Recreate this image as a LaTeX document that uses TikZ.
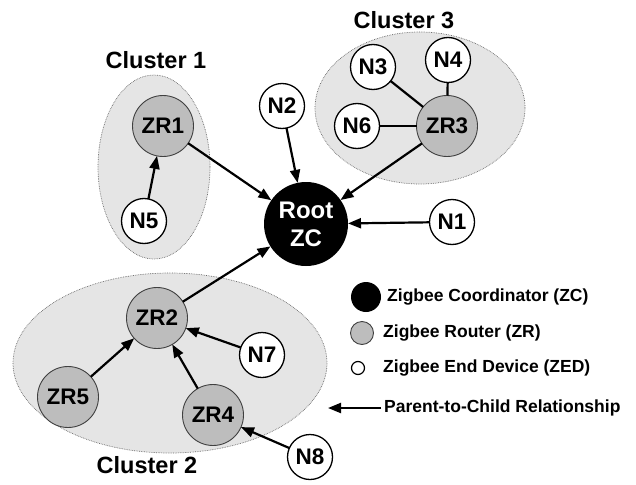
\documentclass[tikz,border=0pt]{standalone}
\usepackage{fontspec}
\setmainfont{Liberation Sans}
\usetikzlibrary{arrows.meta}
\definecolor{clusterfill}{gray}{0.90}
\definecolor{routerfill}{gray}{0.74}
\tikzset{
  cluster/.style={draw=gray!80!black, densely dotted, line width=0.7pt, fill=clusterfill},
  nodebase/.style={circle, inner sep=0pt, outer sep=0pt, font=\fontsize{22.5}{24}\selectfont\bfseries},
  enddev/.style={nodebase, draw=black, line width=1.3pt, fill=white, minimum size=45pt},
  router/.style={nodebase, draw=black!75, line width=0.9pt, fill=routerfill, minimum size=61pt},
  coord/.style={nodebase, fill=black, text=white, minimum size=84pt, align=center, font=\fontsize{24}{28}\selectfont\bfseries},
  arr/.style={line width=2.2pt, -{Triangle[length=13pt,width=10pt]}},
  link/.style={line width=2.2pt},
  clabel/.style={font=\fontsize{23.5}{25}\selectfont\bfseries},
  legtext/.style={anchor=west, inner sep=0pt, font=\fontsize{17.5}{19}\selectfont\bfseries}
}
\begin{document}
\begin{tikzpicture}[x=1pt, y=-1pt]
\useasboundingbox (0,0) rectangle (636,484);

% cluster regions
\draw[cluster] (154,167) ellipse [x radius=56, y radius=92];
\draw[cluster] (420,108) ellipse [x radius=105, y radius=76];
\draw[cluster] (170,363) ellipse [x radius=157, y radius=90];

\node[clabel] (c1) at (156,60) {Cluster 1};
\node[clabel] (c3) at (404,20) {Cluster 3};
\node[clabel] (c2) at (147,465) {Cluster 2};

% devices
\node[coord] (root) at (306,224) {Root\\ZC};
\node[router] (zr1) at (163,126) {ZR1};
\node[router] (zr3) at (447,126) {ZR3};
\node[router] (zr2) at (157,318) {ZR2};
\node[router] (zr5) at (68,397) {ZR5};
\node[router] (zr4) at (213,415) {ZR4};

\node[enddev] (n1) at (452,222) {N1};
\node[enddev] (n2) at (282,106) {N2};
\node[enddev] (n3) at (373,67) {N3};
\node[enddev] (n4) at (448,60) {N4};
\node[enddev] (n5) at (144,221) {N5};
\node[enddev] (n6) at (357,126) {N6};
\node[enddev] (n7) at (262,355) {N7};
\node[enddev] (n8) at (310,457) {N8};

% links
\draw[arr] (zr1) -- (root);
\draw[arr] (n2) -- (root);
\draw[arr] (zr3) -- (root);
\draw[arr] (n1) -- (root);
\draw[arr] (zr2) -- (root);
\draw[arr] (n5) -- (zr1);
\draw[arr] (zr5) -- (zr2);
\draw[arr] (n7) -- (zr2);
\draw[arr] (zr4) -- (zr2);
\draw[arr] (n8) -- (zr4);
\draw[link] (n3) -- (zr3);
\draw[link] (n4) -- (zr3);
\draw[link] (n6) -- (zr3);

% legend
\node[circle, fill=black, inner sep=0pt, minimum size=30pt] (lzc) at (366,297) {};
\node[circle, draw=black!75, line width=0.9pt, fill=routerfill, inner sep=0pt, minimum size=23pt] (lzr) at (362,333) {};
\node[circle, draw=black, line width=1.2pt, fill=white, inner sep=0pt, minimum size=13pt] (lzed) at (358,368) {};
\node[legtext] (tzc) at (387,297) {Zigbee Coordinator (ZC)};
\node[legtext] (tzr) at (383,333) {Zigbee Router (ZR)};
\node[legtext] (tzed) at (383,368) {Zigbee End Device (ZED)};
\coordinate (la1) at (381,408);
\coordinate (la2) at (328,408);
\draw[arr] (la1) -- (la2);
\node[legtext] (trel) at (384,408) {Parent-to-Child Relationship};
\end{tikzpicture}
\end{document}
